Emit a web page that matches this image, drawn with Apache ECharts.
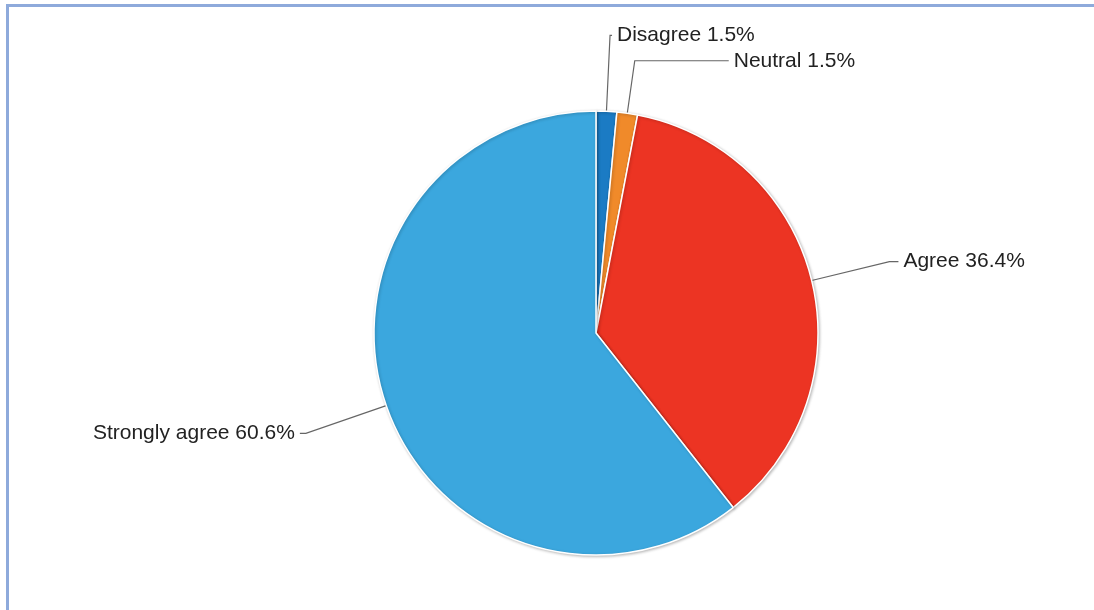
<!DOCTYPE html>
<html>
<head>
<meta charset="utf-8">
<title>Survey responses</title>
<script src="https://cdn.jsdelivr.net/npm/echarts@6/dist/echarts.min.js"></script>
<style>
  html, body { margin: 0; padding: 0; background: #ffffff; }
  #frame {
    position: absolute; left: 6px; top: 4px; width: 1088px; height: 606px;
    border-top: 3px solid #8eaadb; border-left: 3px solid #8eaadb;
    box-sizing: border-box; pointer-events: none; z-index: 2;
  }
  #chart { position: absolute; left: 0; top: 0; width: 1094px; height: 610px; }
</style>
</head>
<body>
<div id="chart"></div>
<div id="frame"></div>
<script>
// Response categories, in clockwise order from 12 o'clock
const categories = ['Disagree', 'Neutral', 'Agree', 'Strongly agree'];
// Share of respondents (%)
const shares = [1.5, 1.5, 36.4, 60.6];
const colors = ['#1b7bc4', '#f08a2a', '#ec3423', '#3ba7de'];
// Leader line lengths per slice: [radial segment, horizontal segment]
const leaderLengths = [[76, 2], [53, 94], [80, 9], [85, 6]];
// Extra top padding that nudges a label's text down a little
const labelNudge = [2, 2, 8, 6];

const chart = echarts.init(document.getElementById('chart'), null, { renderer: 'canvas' });

const data = categories.map((name, i) => ({
  name: name,
  value: shares[i],
  itemStyle: { color: colors[i] },
  label: { padding: [labelNudge[i], 0, 0, 0] },
  labelLine: { length: leaderLengths[i][0], length2: leaderLengths[i][1] }
}));

chart.setOption({
  backgroundColor: '#ffffff',
  animation: false,
  series: [{
    type: 'pie',
    center: [596, 333],
    radius: 222,
    startAngle: 90,
    clockwise: true,
    avoidLabelOverlap: false,
    data: data,
    itemStyle: {
      borderColor: '#ffffff',
      borderWidth: 1.5,
      shadowBlur: 3,
      shadowColor: 'rgba(0,0,0,0.25)',
      shadowOffsetX: 1,
      shadowOffsetY: 1
    },
    label: {
      show: true,
      formatter: '{b} {c}%',
      color: '#222222',
      fontFamily: '"Liberation Sans", Arial, sans-serif',
      fontSize: 21,
      distanceToLabelLine: 5
    },
    labelLine: {
      show: true,
      lineStyle: { color: '#666666', width: 1.2 }
    },
    emphasis: { disabled: true }
  }]
});
</script>
</body>
</html>
